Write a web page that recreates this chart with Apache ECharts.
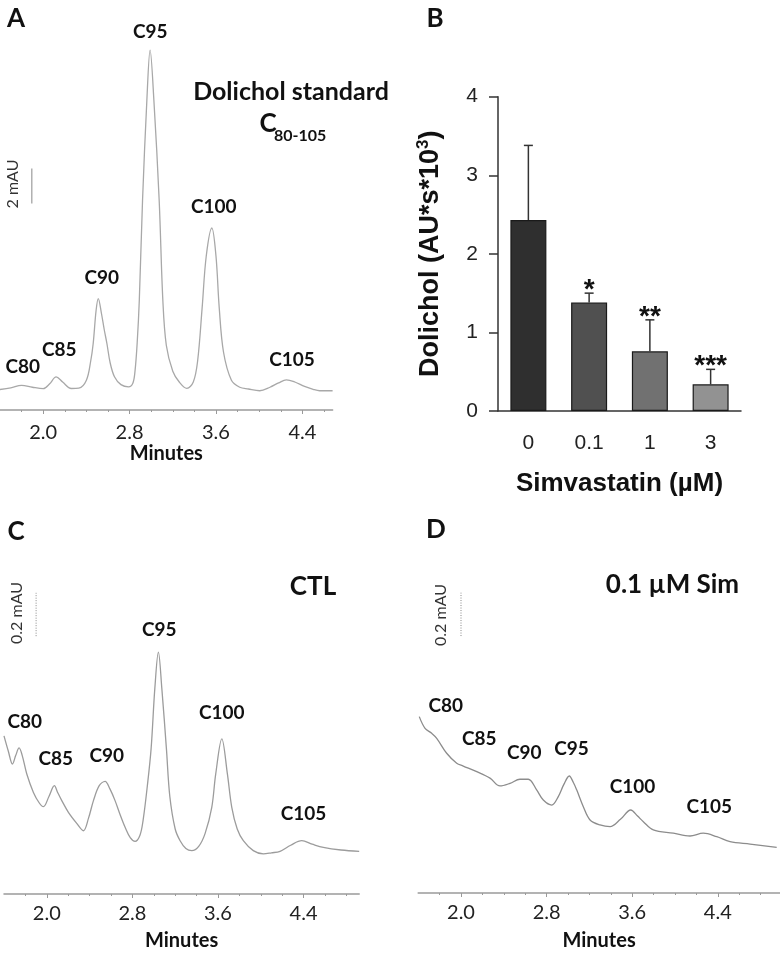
<!DOCTYPE html>
<html><head><meta charset="utf-8">
<script src="https://cdn.jsdelivr.net/npm/echarts@6/dist/echarts.min.js"></script>
<style>html,body{margin:0;padding:0;background:#fff}#c{width:780px;height:953px}</style>
</head><body><div id="c"></div>
<script>
// ---------- DATA ----------
const majorTicks = [2.0, 2.8, 3.6, 4.4];
const minorTicks = [1.8, 2.2, 2.4, 2.6, 3.0, 3.2, 3.4, 3.8, 4.0, 4.2, 4.6, 4.8];
const peakNames = ['C80', 'C85', 'C90', 'C95', 'C100', 'C105'];

// Panel A: dolichol standard chromatogram [minutes, mAU]
const chromA = [[1.60,-0.13],[1.70,-0.04],[1.80,0.11],[1.90,0.0],[2.00,-0.08],[2.06,0.2],[2.12,0.59],[2.18,0.3],[2.26,-0.07],[2.33,-0.05],[2.40,0.4],[2.44,1.5],[2.463,2.5],[2.49,4.4],[2.51,5.07],[2.54,4.2],[2.565,3.3],[2.59,2.5],[2.62,1.4],[2.66,0.6],[2.72,0.15],[2.79,0.02],[2.83,0.23],[2.85,0.91],[2.87,2.5],[2.89,4.97],[2.92,10.69],[2.96,16.4],[2.99,19.26],[3.025,16.4],[3.074,10.69],[3.108,4.97],[3.14,2.4],[3.20,0.91],[3.26,0.3],[3.33,-0.06],[3.39,0.3],[3.43,1.5],[3.472,4.55],[3.51,7.5],[3.562,9.10],[3.60,7.5],[3.63,4.55],[3.67,2.0],[3.743,0.4],[3.82,0.0],[3.90,-0.1],[4.005,-0.2],[4.10,0.0],[4.18,0.25],[4.252,0.42],[4.33,0.3],[4.42,0.05],[4.50,-0.12],[4.56,-0.2],[4.68,-0.2]];

// Panel C: CTL chromatogram [minutes, mAU]
const chromC = [[1.60,0.53],[1.64,0.46],[1.679,0.40],[1.71,0.44],[1.741,0.474],[1.77,0.44],[1.813,0.354],[1.875,0.269],[1.93,0.22],[1.968,0.203],[2.02,0.25],[2.071,0.300],[2.10,0.27],[2.14,0.231],[2.202,0.177],[2.28,0.126],[2.342,0.092],[2.39,0.15],[2.436,0.231],[2.49,0.30],[2.545,0.320],[2.59,0.285],[2.638,0.231],[2.69,0.16],[2.732,0.108],[2.78,0.06],[2.825,0.043],[2.87,0.07],[2.90,0.14],[2.94,0.30],[2.975,0.471],[3.01,0.75],[3.043,0.916],[3.075,0.75],[3.118,0.471],[3.15,0.25],[3.20,0.10],[3.246,0.046],[3.30,0.01],[3.355,0.0],[3.42,0.02],[3.48,0.08],[3.542,0.200],[3.579,0.354],[3.636,0.516],[3.688,0.354],[3.729,0.200],[3.78,0.10],[3.837,0.046],[3.93,0.0],[4.024,-0.015],[4.10,-0.01],[4.18,-0.003],[4.28,0.025],[4.383,0.046],[4.48,0.03],[4.585,0.015],[4.75,0.003],[4.92,-0.003]];

// Panel D: 0.1 uM simvastatin chromatogram [minutes, mAU]
const chromD = [[1.610,0.614],[1.664,0.560],[1.726,0.537],[1.773,0.514],[1.866,0.445],[1.960,0.399],[2.021,0.386],[2.147,0.360],[2.271,0.330],[2.364,0.294],[2.458,0.306],[2.551,0.325],[2.629,0.325],[2.707,0.276],[2.769,0.229],[2.848,0.206],[2.909,0.245],[2.96,0.30],[3.012,0.340],[3.05,0.31],[3.081,0.276],[3.143,0.198],[3.206,0.137],[3.299,0.114],[3.393,0.106],[3.49,0.14],[3.586,0.183],[3.65,0.155],[3.704,0.129],[3.797,0.091],[3.984,0.076],[4.140,0.063],[4.264,0.076],[4.390,0.060],[4.514,0.037],[4.701,0.026],[4.950,0.011]];

// Panel B: dolichol content vs simvastatin dose
const doseCategories = ['0', '0.1', '1', '3'];
const dolicholMean = [2.43, 1.38, 0.76, 0.34];
const dolicholErr = [0.95, 0.12, 0.40, 0.19];
const significance = ['', '*', '**', '***'];

// Scale bars (mAU)
const scaleBarA = 2;
const scaleBarCD = 0.2;

// ---------- CHART ----------
const chart = echarts.init(document.getElementById('c'), null, {renderer: 'canvas'});
const AX = '#9a9a9a';
const TXT = '#111';
const FONT = 'Lato';

function mainX(grid, min, max, margin, gap) {
  return {
    type: 'value', gridIndex: grid, min: min, max: max, position: 'bottom',
    axisLine: {show: true, onZero: false, lineStyle: {color: AX, width: 1.5}},
    axisTick: {show: true, length: 4, lineStyle: {color: AX, width: 1}, customValues: majorTicks},
    axisLabel: {show: true, margin: margin, customValues: majorTicks, formatter: v => v.toFixed(1),
      fontFamily: FONT, fontSize: 20, color: '#222'},
    splitLine: {show: false},
    name: 'Minutes', nameLocation: 'middle', nameGap: gap,
    nameTextStyle: {fontFamily: FONT, fontWeight: 'bold', fontSize: 20, color: TXT}
  };
}
function minorX(grid, min, max) {
  return {
    type: 'value', gridIndex: grid, min: min, max: max, position: 'bottom',
    axisLine: {show: false, onZero: false},
    axisTick: {show: true, length: 2, lineStyle: {color: AX, width: 1}, customValues: minorTicks},
    axisLabel: {show: false}, splitLine: {show: false}
  };
}
function hiddenY(grid, min, max) {
  return {type: 'value', gridIndex: grid, min: min, max: max, show: false, splitLine: {show: false}};
}
function chrom(data, xi, yi, color) {
  return {type: 'line', xAxisIndex: xi, yAxisIndex: yi, data: data, showSymbol: false, symbol: 'none',
    smooth: 0.35, lineStyle: {color: color, width: 1.3}, silent: true, z: 3};
}
function scaleBar(x, y0, len, xi, yi, dotted) {
  return {type: 'line', xAxisIndex: xi, yAxisIndex: yi, data: [[x, y0], [x, y0 + len]], symbol: 'none',
    lineStyle: {color: '#888', width: 1, type: dotted ? [1, 1.5] : 'solid'}, silent: true};
}

const t = (x, y, text, size, opts = {}) => ({
  type: 'text', x: x, y: y, rotation: opts.rot || 0,
  style: {text: text, fill: opts.color || TXT, fontFamily: opts.family || FONT,
    fontWeight: opts.weight || 'bold', fontSize: size, align: opts.align || 'center', verticalAlign: 'middle'}
});

const pf = 19;
const graphics = [
  t(16, 19, 'A', 26), t(435, 19, 'B', 26), t(16, 532, 'C', 26), t(436, 530, 'D', 26),
  // A annotations
  t(291, 92, 'Dolichol standard', 25),
  t(268, 124, 'C', 26), t(274, 136, '80-105', 16, {align: 'left'}),
  t(12.5, 184, '2 mAU', 16, {weight: 'normal', rot: Math.PI / 2, color: '#333'}),
  t(22.7, 367, peakNames[0], pf), t(59.3, 350, peakNames[1], pf), t(101.7, 278, peakNames[2], pf),
  t(150.3, 31.7, peakNames[3], pf), t(213.8, 207, peakNames[4], pf), t(292, 360, peakNames[5], pf),
  // C annotations
  t(313, 587, 'CTL', 26),
  t(17, 613, '0.2 mAU', 16, {weight: 'normal', rot: Math.PI / 2, color: '#333'}),
  t(24.8, 721.7, peakNames[0], pf), t(55.7, 759.3, peakNames[1], pf), t(106.7, 756, peakNames[2], pf),
  t(159.3, 630, peakNames[3], pf), t(221.8, 712.7, peakNames[4], pf), t(303.5, 814.3, peakNames[5], pf),
  // D annotations
  t(672.5, 585, '0.1 µM Sim', 26),
  t(441, 615, '0.2 mAU', 16, {weight: 'normal', rot: Math.PI / 2, color: '#333'}),
  t(445.7, 706.3, peakNames[0], pf), t(479.3, 739, peakNames[1], pf), t(524.3, 753.3, peakNames[2], pf),
  t(571.5, 749.2, peakNames[3], pf), t(632.5, 787, peakNames[4], pf), t(709.2, 806.7, peakNames[5], pf)
];

const barColors = ['#2f2f2f', '#505050', '#717171', '#929292'];
const arial = 'Liberation Sans';

const option = {
  animation: false,
  backgroundColor: '#fff',
  grid: [
    {left: 0, top: 19.75, width: 332.6, height: 390.25},   // A
    {left: 498, top: 96.7, width: 243, height: 314.3},     // B
    {left: 4, top: 569, width: 355.2, height: 325},        // C
    {left: 418.2, top: 568, width: 361.7, height: 325}     // D
  ],
  xAxis: [
    mainX(0, 1.6, 4.68, 13, 33),
    minorX(0, 1.6, 4.68),
    {
      type: 'category', gridIndex: 1, data: doseCategories,
      axisLine: {lineStyle: {color: '#333', width: 1.5}},
      axisTick: {alignWithLabel: true, length: 8, lineStyle: {color: '#333', width: 1.5}},
      axisLabel: {fontFamily: arial, fontSize: 21, color: '#222', margin: 22},
      name: 'Simvastatin (µM)', nameLocation: 'middle', nameGap: 60,
      nameTextStyle: {fontFamily: arial, fontWeight: 'bold', fontSize: 26, color: TXT}
    },
    mainX(2, 1.6, 4.92, 10, 37),
    minorX(2, 1.6, 4.92),
    mainX(3, 1.6, 4.98, 10, 38),
    minorX(3, 1.6, 4.98)
  ],
  yAxis: [
    hiddenY(0, -1.3, 21),
    {
      type: 'value', gridIndex: 1, min: 0, max: 4, interval: 1,
      axisLine: {show: true, lineStyle: {color: '#333', width: 1.5}},
      axisTick: {show: true, length: 9, lineStyle: {color: '#333', width: 1.5}},
      axisLabel: {fontFamily: arial, fontSize: 21, color: '#222', margin: 20},
      splitLine: {show: false},
      name: '{b|Dolichol (AU*s*10}{s|3}{b|)}', nameLocation: 'middle', nameGap: 52,
      nameTextStyle: {rich: {
        b: {fontFamily: arial, fontWeight: 'bold', fontSize: 27, color: TXT, lineHeight: 31},
        s: {fontFamily: arial, fontWeight: 'bold', fontSize: 17, color: TXT, verticalAlign: 'top', lineHeight: 31}
      }}
    },
    hiddenY(2, -0.2, 1.3),
    hiddenY(3, -0.2, 1.3)
  ],
  series: [
    chrom(chromA, 0, 0, '#a8a8a8'),
    scaleBar(1.895, 10.5, scaleBarA, 0, 0, false),
    {
      type: 'bar', xAxisIndex: 2, yAxisIndex: 1, barWidth: 36,
      data: dolicholMean.map((v, i) => ({value: v, itemStyle: {color: barColors[i]}})),
      itemStyle: {borderColor: '#1a1a1a', borderWidth: 1.2}, z: 2, silent: true
    },
    {
      type: 'custom', xAxisIndex: 2, yAxisIndex: 1, z: 1, silent: true,
      data: dolicholMean.map((v, i) => [i, v, v + dolicholErr[i]]),
      renderItem: function (params, api) {
        const lo = api.coord([api.value(0), api.value(1)]);
        const hi = api.coord([api.value(0), api.value(2)]);
        const cap = 4.5;
        return {type: 'group', children: [
          {type: 'line', shape: {x1: lo[0], y1: lo[1], x2: hi[0], y2: hi[1]}, style: {stroke: '#333', lineWidth: 1.5}},
          {type: 'line', shape: {x1: hi[0] - cap, y1: hi[1], x2: hi[0] + cap, y2: hi[1]}, style: {stroke: '#333', lineWidth: 1.5}},
          {type: 'text', x: hi[0], y: hi[1] - 3, style: {text: significance[params.dataIndex], fill: '#111',
            fontFamily: arial, fontWeight: 'bold', fontSize: 28, align: 'center', verticalAlign: 'middle'}}
        ]};
      }
    },
    chrom(chromC, 3, 2, '#9c9c9c'),
    scaleBar(1.90, 0.99, scaleBarCD, 3, 2, true),
    chrom(chromD, 5, 3, '#8c8c8c'),
    scaleBar(2.0, 0.986, scaleBarCD, 5, 3, true)
  ],
  graphic: graphics
};
chart.setOption(option);
</script>
</body></html>
